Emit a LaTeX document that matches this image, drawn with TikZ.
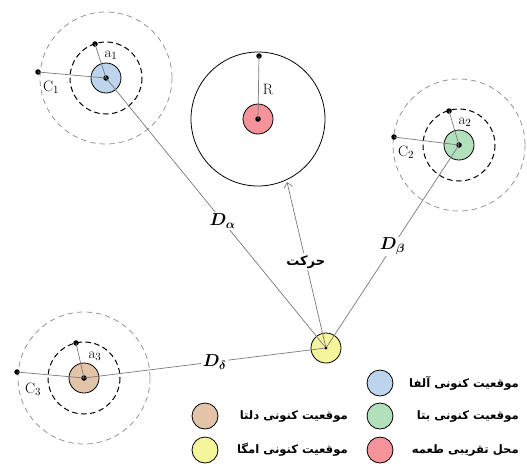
\documentclass[tikz,border=0pt]{standalone}
\usepackage{fontspec}
\usepackage{amsmath,bm}
\usetikzlibrary{arrows.meta}
\TeXXeTstate=1
\newfontfamily\fafont[Script=Arabic]{DejaVu Sans}
\definecolor{alphaC}{HTML}{BCD4EC}
\definecolor{betaC}{HTML}{B2E0BC}
\definecolor{preyC}{HTML}{F4939A}
\definecolor{deltaC}{HTML}{E3C4A9}
\definecolor{omegaC}{HTML}{F5F59B}
\definecolor{linkC}{HTML}{7A7A7A}
\definecolor{ringC}{HTML}{8A8A8A}
\newcommand{\fa}[1]{{\fafont\bfseries\beginR #1\endR}}
\begin{document}
\begin{tikzpicture}[x=1pt,y=-1pt,
  wolf/.style={circle,draw=black,line width=0.8pt,minimum size=30pt,inner sep=0pt},
  legendmark/.style={circle,draw=black,line width=0.8pt,minimum size=26pt,inner sep=0pt},
  dot/.style={circle,fill=black,minimum size=5.5pt,inner sep=0pt},
  link/.style={draw=linkC,line width=0.7pt},
  innerring/.style={draw=black,line width=1pt,dash pattern=on 5.5pt off 3.5pt},
  outerring/.style={draw=ringC,line width=0.7pt,dash pattern=on 5.5pt off 4pt},
  lbl/.style={font=\fontsize{15}{15}\selectfont,inner sep=1pt},
  dlbl/.style={fill=white,inner sep=1.5pt,font=\fontsize{17}{17}\selectfont},
  legendtext/.style={anchor=east,inner sep=0pt,font=\fontsize{11.6}{14}\selectfont}]
\useasboundingbox (0,0) rectangle (527,467);

% prey region
\draw[line width=0.8pt] (258,119) circle[radius=67];
\node[wolf,fill=preyC] (prey) at (258,119) {};
\node[dot] (preyc) at (258,119) {};
\node[dot] (rdot) at (259,56) {};
\draw[link] (preyc.center) -- (rdot.center);
\node[lbl] at (268,89) {R};
\coordinate (ringhit) at (287,182);

% alpha wolf
\draw[outerring] (106,78) circle[radius=66];
\draw[innerring] (106,78) circle[radius=36];
\node[wolf,fill=alphaC] (alpha) at (106,78) {};
\node[dot] (alphac) at (106,78) {};
\node[dot] (a1) at (95,44) {};
\node[dot] (c1) at (38,72) {};
\draw[link] (alphac.center) -- (a1.center);
\draw[link] (alphac.center) -- (c1.center);
\node[lbl] at (111,55) {a$_1$};
\node[lbl] at (51,87) {C$_1$};

% beta wolf
\draw[outerring] (459,145) circle[radius=66];
\draw[innerring] (459,145) circle[radius=36];
\node[wolf,fill=betaC] (beta) at (459,145) {};
\node[dot] (betac) at (459,145) {};
\node[dot] (a2) at (449,111) {};
\node[dot] (c2) at (394,137) {};
\draw[link] (betac.center) -- (a2.center);
\draw[link] (betac.center) -- (c2.center);
\node[lbl] at (465,122) {a$_2$};
\node[lbl] at (406,152) {C$_2$};

% delta wolf
\draw[outerring] (84,378) circle[radius=66];
\draw[innerring] (84,378) circle[radius=36];
\node[wolf,fill=deltaC] (delta) at (84,378) {};
\node[dot] (deltac) at (84,378) {};
\node[dot] (a3) at (76,343) {};
\node[dot] (c3) at (17,372) {};
\draw[link] (deltac.center) -- (a3.center);
\draw[link] (deltac.center) -- (c3.center);
\node[lbl] at (95,356) {a$_3$};
\node[lbl] at (33,389) {C$_3$};

% omega wolf and its distances
\node[wolf,fill=omegaC] (omega) at (326,348) {};
\draw[link] (omega.center) -- node[dlbl,pos=0.47] {$\bm{D}_{\bm\alpha}$} (alphac.center);
\draw[link] (omega.center) -- node[dlbl,pos=0.5] {$\bm{D}_{\bm\beta}$} (betac.center);
\draw[link] (omega.center) -- node[dlbl,pos=0.46] {$\bm{D}_{\bm\delta}$} (deltac.center);
\draw[link,-{Straight Barb[length=5pt,width=9pt,line width=0.7pt]}] (omega.center) -- node[fill=white,inner sep=2pt,font=\fontsize{13}{14}\selectfont,pos=0.52] {\fa{حرکت}} (ringhit);
\node[circle,fill=black,minimum size=3pt,inner sep=0pt] (omegac) at (326,348) {};

% legend
\node[legendmark,fill=alphaC] (lga) at (380,383) {};
\node[legendtext] (lgat) at (519,383) {\fa{موقعیت کنونی آلفا}};
\node[legendmark,fill=betaC] (lgb) at (380,416) {};
\node[legendtext] (lgbt) at (519,416) {\fa{موقعیت کنونی بتا}};
\node[legendmark,fill=preyC] (lgp) at (380,450) {};
\node[legendtext] (lgpt) at (519,450) {\fa{محل تقریبی طعمه}};
\node[legendmark,fill=deltaC] (lgd) at (205,416) {};
\node[legendtext] (lgdt) at (348,416) {\fa{موقعیت کنونی دلتا}};
\node[legendmark,fill=omegaC] (lgo) at (205,450) {};
\node[legendtext] (lgot) at (348,450) {\fa{موقعیت کنونی امگا}};
\end{tikzpicture}
\end{document}
